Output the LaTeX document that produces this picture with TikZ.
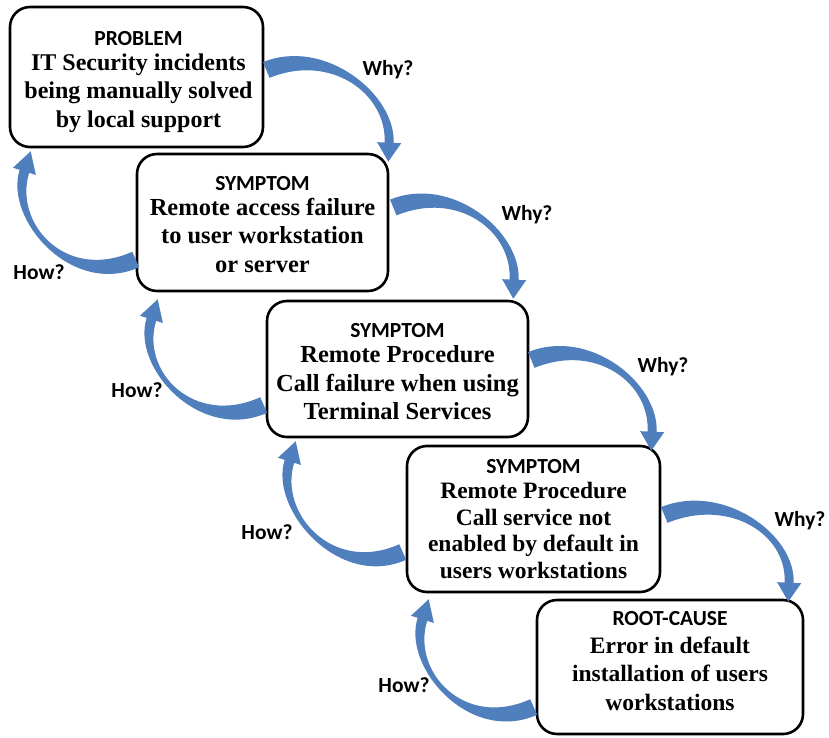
\documentclass[tikz,border=0pt]{standalone}
\usepackage{fontspec}
\setmainfont{Liberation Serif}
\newfontfamily\headfont{Carlito}
\usetikzlibrary{calc}

\definecolor{loopblue}{RGB}{79,127,188}

\newcommand{\hd}[1]{{\headfont\bfseries\fontsize{21.5}{25}\selectfont #1}}

% Tapered curved arrow, filled:
% #1 tail point, #2 tail handle, #3 tip point, #4 tip handle,
% #5 tail half width, #6 neck half width, #7 head half width, #8 head length
\newcommand{\looparrow}[8]{%
  \coordinate (lt) at #1;
  \coordinate (lc1) at ($(lt)+#2$);
  \coordinate (ltip) at #3;
  \coordinate (lc2) at ($(ltip)+#4$);
  \coordinate (lnb) at ($(ltip)!#8!(lc2)$);
  \coordinate (ltl) at ($(lt)!#5!90:(lc1)$);
  \coordinate (ltr) at ($(lt)!#5!-90:(lc1)$);
  \coordinate (lc1l) at ($(lc1)+(ltl)-(lt)$);
  \coordinate (lc1r) at ($(lc1)+(ltr)-(lt)$);
  \coordinate (lnl) at ($(lnb)!#6!-90:(lc2)$);
  \coordinate (lnr) at ($(lnb)!#6!90:(lc2)$);
  \coordinate (lc2l) at ($(lc2)+(lnl)-(lnb)$);
  \coordinate (lc2r) at ($(lc2)+(lnr)-(lnb)$);
  \coordinate (lhl) at ($(lnb)!#7!-90:(lc2)$);
  \coordinate (lhr) at ($(lnb)!#7!90:(lc2)$);
  \fill[loopblue] (ltl) .. controls (lc1l) and (lc2l) .. (lnl) -- (lhl) -- (ltip)
    -- (lhr) -- (lnr) .. controls (lc2r) and (lc1r) .. (ltr) -- cycle;
}

\tikzset{
  stepbox/.style={draw=black, line width=2.6pt, rounded corners=20pt, fill=white},
  steptext/.style={align=center, inner sep=0pt, font=\bfseries\fontsize{#1}{28.5}\selectfont},
  qlabel/.style={font=\headfont\bfseries\fontsize{21.5}{25}\selectfont, inner sep=0pt}
}

\begin{document}
\begin{tikzpicture}[x=1pt, y=-1pt]
  \useasboundingbox[fill=white] (0,0) rectangle (829,738);

  % the five cause levels
  \node[stepbox, minimum width=253pt, minimum height=140pt] (b1) at (136.5,77) {};
  \node[stepbox, minimum width=251pt, minimum height=137pt] (b2) at (262.5,222.5) {};
  \node[stepbox, minimum width=261pt, minimum height=136pt] (b3) at (397.5,369) {};
  \node[stepbox, minimum width=253pt, minimum height=146pt] (b4) at (533.5,519) {};
  \node[stepbox, minimum width=266pt, minimum height=134pt] (b5) at (670,667) {};

  \node[steptext=24] (t1) at ($(b1.center)+(2,5)$)
    {\hd{PROBLEM}\\[-3.5pt] IT Security incidents\\ being manually solved\\ by local support};
  \node[steptext=24.5] (t2) at ($(b2.center)+(0,2)$)
    {\hd{SYMPTOM}\\[-3.5pt] Remote access failure\\ to user workstation\\ or server};
  \node[steptext=24.5] (t3) at ($(b3.center)+(0,3)$)
    {\hd{SYMPTOM}\\[-3.5pt] Remote Procedure\\ Call failure when using\\ Terminal Services};
  \node[steptext=23.5, font=\bfseries\fontsize{23.5}{26.5}\selectfont] (t4) at (b4.center)
    {\hd{SYMPTOM}\\[-1.5pt] Remote Procedure\\ Call service not\\ enabled by default in\\ users workstations};
  \node[steptext=23.5] (t5) at ($(b5.center)+(0,-6)$)
    {\hd{ROOT-CAUSE}\\[-1pt] Error in default\\ installation of users\\ workstations};

  % "Why?" loops, downwards on the right
  \looparrow{($(b1.east)+(2,-7)$)}{(61,-25)}{($(b2.north east)+(-1,9)$)}{(3,-68)}{8.5pt}{4.5pt}{12pt}{19pt}
  \looparrow{($(b2.east)+(4,-15)$)}{(61,-25)}{($(b3.north east)+(-16,-1)$)}{(3,-68)}{8.5pt}{4.5pt}{12pt}{19pt}
  \looparrow{($(b3.east)+(2,-9)$)}{(61,-25)}{($(b4.north east)+(-10,6)$)}{(3,-68)}{8.5pt}{4.5pt}{12pt}{19pt}
  \looparrow{($(b4.east)+(3,-4)$)}{(61,-25)}{($(b5.north east)+(-16,3)$)}{(3,-68)}{8.5pt}{4.5pt}{12pt}{19pt}

  % "How?" loops, upwards on the left
  \looparrow{($(b2.west)+(0,37)$)}{(-67,30)}{($(b1.south west)+(22,3)$)}{(-22,70)}{8.5pt}{5pt}{12pt}{21pt}
  \looparrow{($(b3.west)+(-2,36)$)}{(-67,30)}{($(b2.south west)+(22,7)$)}{(-22,70)}{8.5pt}{5pt}{12pt}{21pt}
  \looparrow{($(b4.west)+(-3,33)$)}{(-67,30)}{($(b3.south west)+(30,3)$)}{(-22,70)}{8.5pt}{5pt}{12pt}{21pt}
  \looparrow{($(b5.west)+(-2,40)$)}{(-67,30)}{($(b4.south west)+(23,6)$)}{(-22,70)}{8.5pt}{5pt}{12pt}{21pt}

  % loop labels
  \node[qlabel] (w1) at (388,70) {Why?};
  \node[qlabel] (w2) at (527,215) {Why?};
  \node[qlabel] (w3) at (663,367) {Why?};
  \node[qlabel] (w4) at (800,521) {Why?};
  \node[qlabel] (h1) at (39,272) {How?};
  \node[qlabel] (h2) at (137,390) {How?};
  \node[qlabel] (h3) at (267,532) {How?};
  \node[qlabel] (h4) at (404,685) {How?};
\end{tikzpicture}
\end{document}
